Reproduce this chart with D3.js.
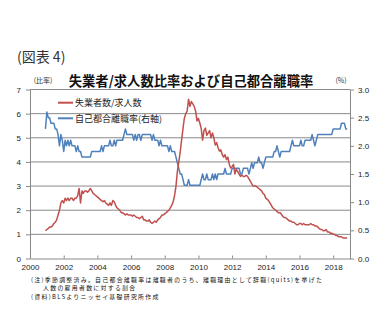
<!DOCTYPE html>
<html><head><meta charset="utf-8">
<script src="https://cdn.jsdelivr.net/npm/d3@7/dist/d3.min.js"></script>
<style>
body{margin:0;background:#fff;}
svg{display:block;font-family:"Noto Sans CJK JP","Noto Sans",sans-serif;}
</style></head><body>
<svg id="c" width="389" height="321"></svg>
<script>
// Monthly data, Dec 2000 .. Nov 2018
const startYear = 2000, startMonth = 11; // Dec 2000 (0-based month)
const ratioUnempPerOpening = [
 1.15,
 1.2,1.25,1.3,1.3,1.35,1.45,1.5,1.6,1.8,2.0,2.3,2.4,
 2.3,2.5,2.4,2.5,2.4,2.5,2.5,2.4,2.5,2.5,2.6,2.9,
 2.3,2.8,2.7,2.8,2.8,2.75,2.8,2.9,2.8,2.7,2.65,2.6,
 2.55,2.5,2.45,2.4,2.35,2.4,2.3,2.25,2.2,2.3,2.2,2.4,
 2.35,2.2,2.1,2.05,2.0,1.9,1.9,1.85,1.8,1.85,1.8,1.8,
 1.8,1.75,1.8,1.75,1.7,1.7,1.65,1.7,1.75,1.6,1.6,1.55,
 1.55,1.6,1.5,1.45,1.5,1.55,1.5,1.6,1.65,1.7,1.8,1.8,
 1.85,1.9,1.95,2.0,2.1,2.2,2.35,2.6,3.0,3.6,4.0,4.4,
 4.9,5.4,5.8,6.0,6.1,6.6,6.3,6.5,6.4,6.3,6.1,5.7,
 5.8,5.6,5.4,4.9,5.3,5.4,5.1,5.2,5.3,5.0,5.2,5.0,
 4.7,4.8,4.6,4.45,4.5,4.3,4.2,4.3,4.1,4.2,3.9,3.75,
 3.8,3.9,3.5,3.7,3.6,3.5,3.4,3.45,3.4,3.4,3.45,3.4,
 3.3,3.2,3.1,3.0,3.0,3.0,2.95,2.9,2.85,2.8,2.7,2.65,
 2.5,2.45,2.4,2.3,2.2,2.1,2.05,2.0,1.95,1.9,1.9,1.85,
 1.75,1.7,1.7,1.65,1.6,1.55,1.55,1.5,1.5,1.45,1.4,1.4,
 1.45,1.45,1.4,1.45,1.4,1.4,1.4,1.4,1.45,1.4,1.4,1.35,
 1.35,1.3,1.25,1.2,1.2,1.15,1.15,1.2,1.1,1.1,1.05,1.05,
 1.0,1.0,0.95,0.95,0.9,0.9,0.9,0.85,0.85,0.85,0.85
];
const quitsRate = [
 2.3,
 2.6,2.5,2.5,2.4,2.4,2.4,2.3,2.3,2.2,2.0,2.2,2.1,
 1.9,2.1,2.0,2.1,2.0,2.1,2.0,2.0,2.0,1.9,2.0,1.9,
 1.9,1.8,1.8,1.8,1.8,1.8,1.8,1.8,1.9,1.9,1.9,1.9,
 1.9,1.9,1.9,2.0,1.9,2.0,2.0,2.0,2.0,2.1,2.0,2.0,
 2.1,2.0,2.1,2.1,2.1,2.1,2.1,2.2,2.3,2.2,2.2,2.2,
 2.2,2.2,2.1,2.2,2.1,2.2,2.2,2.1,2.2,2.2,2.2,2.2,
 2.2,2.2,2.2,2.1,2.2,2.1,2.1,2.1,2.0,2.1,2.0,2.0,
 2.0,2.0,2.0,1.9,2.0,1.9,1.9,1.9,1.8,1.7,1.6,1.5,
 1.5,1.4,1.3,1.3,1.3,1.4,1.3,1.3,1.3,1.3,1.3,1.3,
 1.3,1.3,1.4,1.5,1.4,1.4,1.5,1.4,1.4,1.4,1.5,1.4,
 1.5,1.4,1.5,1.5,1.5,1.5,1.5,1.6,1.5,1.5,1.5,1.5,
 1.6,1.6,1.6,1.6,1.6,1.6,1.5,1.5,1.6,1.6,1.6,1.6,
 1.5,1.6,1.7,1.6,1.7,1.7,1.7,1.8,1.7,1.7,1.6,1.7,
 1.8,1.8,1.8,1.8,1.8,1.8,1.9,1.9,2.0,1.9,1.8,1.9,
 1.9,1.9,1.9,1.9,1.9,1.9,2.0,2.1,2.0,2.0,2.0,2.0,
 2.0,2.1,2.0,2.0,2.1,2.1,2.1,2.1,2.1,2.2,2.1,2.0,
 2.1,2.2,2.2,2.2,2.2,2.2,2.2,2.2,2.2,2.2,2.2,2.2,
 2.3,2.3,2.3,2.3,2.3,2.3,2.4,2.4,2.4,2.3,2.3
];
const xTickYears = [2000,2002,2004,2006,2008,2010,2012,2014,2016,2018];
const leftTicks = [0,1,2,3,4,5,6,7];
const rightTicks = [0,0.5,1.0,1.5,2.0,2.5,3.0];
const seriesNames = ["失業者数/求人数","自己都合離職率(右軸)"];
const colors = ["#c0504d","#4f81bd"];
const figLabel = "(図表 4)";
const title = "失業者/求人数比率および自己都合離職率";
const notes = [
 "(注)季節調整済み。自己都合離職率は離職者のうち、離職理由として辞職(quits)を挙げた",
 "人数の雇用者数に対する割合",
 "(資料)BLSよりニッセイ基礎研究所作成"
];

const svg = d3.select("#c");
const L = 30, R = 350, T = 89.5, B = 258.5;
const x = d3.scaleTime().domain([new Date(2000,0,1), new Date(2019,0,1)]).range([L,R]);
const yL = d3.scaleLinear().domain([0,7]).range([B,T]);
const yR = d3.scaleLinear().domain([0,3]).range([B,T]);
const dateOf = i => new Date(startYear, startMonth + i, 1);

// gridlines
svg.append("g").selectAll("line").data(leftTicks.filter(d=>d>0)).join("line")
  .attr("x1",L).attr("x2",R).attr("y1",d=>yL(d)).attr("y2",d=>yL(d))
  .attr("stroke","#8a8a8a").attr("stroke-width",1);

// axes
const axisStyle = g => { g.selectAll("path,line").attr("stroke","#8a8a8a"); g.selectAll("text").attr("fill","#222").style("font-family","Liberation Sans, Arial, sans-serif").style("font-size","8px"); };
svg.append("g").attr("transform",`translate(${L},0)`)
  .call(d3.axisLeft(yL).tickValues(leftTicks).tickFormat(d3.format("d")).tickSize(4).tickPadding(5).tickSizeOuter(0))
  .call(axisStyle);
svg.append("g").attr("transform",`translate(${R},0)`)
  .call(d3.axisRight(yR).tickValues(rightTicks).tickFormat(d3.format(".1f")).tickSize(4).tickPadding(4).tickSizeOuter(0))
  .call(axisStyle);
svg.append("g").attr("transform",`translate(0,${B})`)
  .call(d3.axisBottom(x).tickValues(xTickYears.map(y=>new Date(y,0,1))).tickFormat(d3.timeFormat("%Y")).tickSize(-3).tickPadding(6).tickSizeOuter(0))
  .call(axisStyle);

// lines
const lineL = d3.line().x((d,i)=>x(dateOf(i))).y(d=>yL(d));
const lineR = d3.line().x((d,i)=>x(dateOf(i))).y(d=>yR(d));
svg.append("path").datum(quitsRate).attr("d",lineR).attr("fill","none").attr("stroke",colors[1]).attr("stroke-width",1.5).attr("stroke-linejoin","round");
svg.append("path").datum(ratioUnempPerOpening).attr("d",lineL).attr("fill","none").attr("stroke",colors[0]).attr("stroke-width",1.5).attr("stroke-linejoin","round");

// legend
seriesNames.forEach((n,i)=>{
  const yy = 102.7 + i*15.6;
  svg.append("line").attr("x1",58).attr("x2",73).attr("y1",yy).attr("y2",yy).attr("stroke",colors[i]).attr("stroke-width",2);
  svg.append("text").attr("x",75).attr("y",yy+3.2).text(n).attr("font-size","9px").attr("fill","#222");
});

// titles
svg.append("text").attr("x",17).attr("y",62).text(figLabel).attr("font-size","14px").attr("fill","#333");
svg.append("text").attr("x",191).attr("y",86).attr("text-anchor","middle").text(title)
  .attr("font-size","13.3px").attr("font-weight","bold").attr("fill","#111");
svg.append("text").attr("x",43).attr("y",83).attr("text-anchor","middle").text("(比率)").attr("font-size","7px").attr("fill","#333");
svg.append("text").attr("x",341).attr("y",83).attr("text-anchor","middle").text("(%)").attr("font-size","7px").attr("fill","#333");

// notes
const noteX = [31, 43, 31];
notes.forEach((t,i)=>{
  svg.append("text").attr("x",noteX[i]).attr("y",281.5 + i*8.6).text(t)
    .attr("font-size","5.9px").attr("letter-spacing","1.3px").attr("fill","#111");
});
</script>
</body></html>
